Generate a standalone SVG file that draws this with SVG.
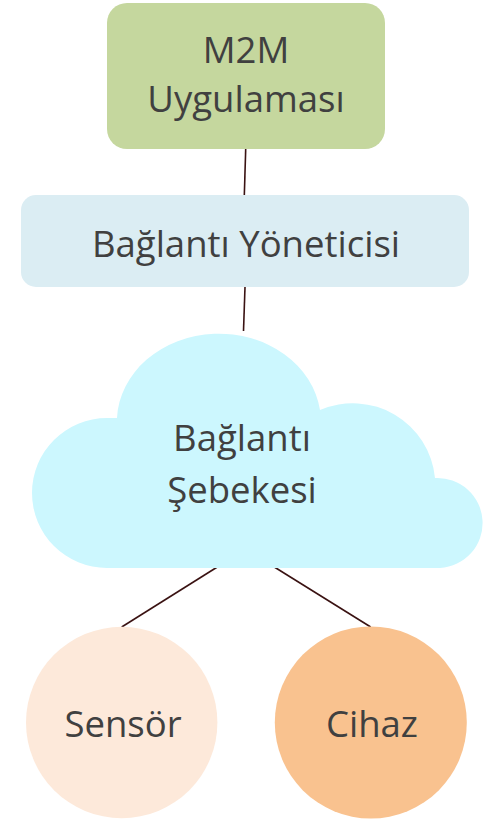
<svg xmlns="http://www.w3.org/2000/svg" width="494" height="820" viewBox="0 0 494 820">
  <style>
    .label { font-family: "Open Sans", "Noto Sans", sans-serif; font-size: 36.5px; fill: #404040; text-anchor: middle; }
    .link { stroke: #3a1212; stroke-width: 1.6; fill: none; }
  </style>
  <rect width="494" height="820" fill="#ffffff"/>

  <!-- connectors -->
  <g id="connectors">
    <line class="link" x1="245.7" y1="149" x2="244.3" y2="196"/>
    <line class="link" x1="245" y1="287" x2="243.5" y2="331"/>
    <line class="link" x1="217.3" y1="567" x2="121.7" y2="627"/>
    <line class="link" x1="274.3" y1="567" x2="370.7" y2="627"/>
  </g>

  <!-- application -->
  <g id="m2m-app">
    <rect x="107" y="3" width="278" height="146" rx="20" fill="#c5d79e"/>
    <text class="label" x="246" y="63">M2M</text>
    <text class="label" x="246" y="112">Uygulaması</text>
  </g>

  <!-- connection manager -->
  <g id="connection-manager">
    <rect x="21" y="195" width="448" height="92" rx="15" fill="#dbedf3"/>
    <text class="label" x="246" y="257">Bağlantı Yöneticisi</text>
  </g>

  <!-- network cloud -->
  <g id="network">
    <path d="M107 568 A75 75 0 0 1 107 418 L117 418 A102 88 0 0 1 320 410 A82.6 82.6 0 0 1 435 478 A45 45 0 1 1 440 568 Z" fill="#ccf7fe"/>
    <text class="label" x="242" y="451">Bağlantı</text>
    <text class="label" x="242" y="503">Şebekesi</text>
  </g>

  <!-- sensor -->
  <g id="sensor">
    <circle cx="121.7" cy="722.5" r="95.7" fill="#fde9da"/>
    <text class="label" x="123" y="737">Sensör</text>
  </g>

  <!-- device -->
  <g id="device">
    <circle cx="370.8" cy="722.5" r="96" fill="#f9c28f"/>
    <text class="label" x="372" y="737">Cihaz</text>
  </g>
</svg>
